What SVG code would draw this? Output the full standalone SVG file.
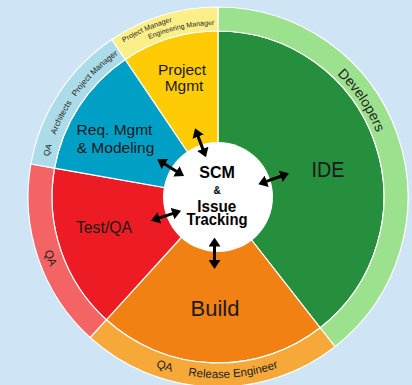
<svg xmlns="http://www.w3.org/2000/svg" width="412" height="385" viewBox="0 0 412 385">
<style>
.seg{stroke:#fff;stroke-width:1.2;stroke-linejoin:round}
.lbl{font-family:"Liberation Sans",Arial,sans-serif;fill:#1a1a1a;text-anchor:middle}
.ring{font-family:"Liberation Sans",Arial,sans-serif;fill:#231f20;text-anchor:middle}
.core{font-family:"Liberation Sans",Arial,sans-serif;font-weight:bold;fill:#000;text-anchor:middle}
.arr{stroke:#000;stroke-width:3;fill:none;marker-start:url(#head);marker-end:url(#head)}
</style>
<defs>
<marker id="head" viewBox="0 0 9 12" markerWidth="9" markerHeight="12" refX="4" refY="6" markerUnits="userSpaceOnUse" orient="auto-start-reverse">
<path d="M0,0 L9,6 L0,12 Z" fill="#000"/>
</marker>
<path id="pDev" d="M265.1,32.6 A171 171 0 0 1 388.1,214.9"/>
<path id="pRel" d="M141.5,361 A181 181 0 0 0 321.8,345.3"/>
<path id="pQAb" d="M120.8,349.7 A181 181 0 0 0 210.1,377.8"/>
<path id="pQAr" d="M36,197 A182 182 0 0 0 78.6,314"/>
<path id="pBlue" d="M44.7,181.8 A174 174 0 0 1 144.5,39.3"/>
<path id="pY1" d="M106.6,54.4 A181 181 0 0 1 192.8,17.8"/>
<path id="pY2" d="M132,48 A172 172 0 0 1 233.6,25.7"/>
</defs>
<rect width="412" height="385" fill="#cfe4f4"/>

<g id="ide">
<path class="seg" fill="#268f3d" d="M218,197 L218,31 A166 166 0 0 1 320.2,327.8 Z"/>
<text class="lbl" x="328" y="177" font-size="22" textLength="33" lengthAdjust="spacingAndGlyphs">IDE</text>
</g>
<g id="build">
<path class="seg" fill="#f08112" d="M218,197 L320.2,327.8 A166 166 0 0 1 106.3,319.8 Z"/>
<text class="lbl" x="215" y="316" font-size="22">Build</text>
</g>
<g id="test">
<path class="seg" fill="#ed1c24" d="M218,197 L106.3,319.8 A166 166 0 0 1 54.5,168.2 Z"/>
<text class="lbl" x="104" y="233" font-size="15.8">Test/QA</text>
</g>
<g id="req">
<path class="seg" fill="#00a0c6" d="M218,197 L54.5,168.2 A166 166 0 0 1 125.2,59.4 Z"/>
<text class="lbl" x="114.5" y="135" font-size="15.5">Req. Mgmt</text>
<text class="lbl" x="115.5" y="152.5" font-size="15.5">&amp; Modeling</text>
</g>
<g id="project">
<path class="seg" fill="#ffcb05" d="M218,197 L125.2,59.4 A166 166 0 0 1 218,31 Z"/>
<text class="lbl" x="182" y="75" font-size="15.5">Project</text>
<text class="lbl" x="184" y="90.5" font-size="15.5">Mgmt</text>
</g>

<g id="ring-developers">
<path class="seg" fill="#9ce28e" d="M218,7 A190 190 0 0 1 335,346.7 L320.2,327.8 A166 166 0 0 0 218,31 Z"/>
<text class="ring" font-size="14"><textPath href="#pDev" startOffset="50%">Developers</textPath></text>
</g>
<g id="ring-build">
<path class="seg" fill="#f6a839" d="M335,346.7 A190 190 0 0 1 90.1,337.5 L106.3,319.8 A166 166 0 0 0 320.2,327.8 Z"/>
<text class="ring" font-size="11.5"><textPath href="#pQAb" startOffset="50%">QA</textPath></text>
<text class="ring" font-size="11.5"><textPath href="#pRel" startOffset="50%">Release Engineer</textPath></text>
</g>
<g id="ring-test">
<path class="seg" fill="#f46465" d="M90.1,337.5 A190 190 0 0 1 30.9,164 L54.5,168.2 A166 166 0 0 0 106.3,319.8 Z"/>
<text class="ring" font-size="11.5"><textPath href="#pQAr" startOffset="50%">QA</textPath></text>
</g>
<g id="ring-req">
<path class="seg" fill="#acdce9" d="M30.9,164 A190 190 0 0 1 111.8,39.5 L125.2,59.4 A166 166 0 0 0 54.5,168.2 Z"/>
<text class="ring" font-size="8.2"><textPath href="#pBlue" startOffset="31.6">QA</textPath></text>
<text class="ring" font-size="8.2"><textPath href="#pBlue" startOffset="66.5">Architects</textPath></text>
<text class="ring" font-size="8.2"><textPath href="#pBlue" startOffset="121.5">Project Manager</textPath></text>
</g>
<g id="ring-project">
<path class="seg" fill="#fcef8a" d="M111.8,39.5 A190 190 0 0 1 218,7 L218,31 A166 166 0 0 0 125.2,59.4 Z"/>
<text class="ring" font-size="7.2"><textPath href="#pY1" startOffset="50%">Project Manager</textPath></text>
<text class="ring" font-size="7"><textPath href="#pY2" startOffset="50%">Engineering Manager</textPath></text>
</g>

<g id="core">
<circle cx="218" cy="197" r="55" fill="#fff"/>
<text class="core" x="217" y="178.3" font-size="16">SCM</text>
<text class="core" x="217" y="194" font-size="10">&amp;</text>
<text class="core" x="216.7" y="211.7" font-size="16" textLength="39" lengthAdjust="spacingAndGlyphs">Issue</text>
<text class="core" x="217" y="225" font-size="16" textLength="61" lengthAdjust="spacingAndGlyphs">Tracking</text>
</g>

<g id="connectors">
<line class="arr" x1="196.8" y1="133" x2="204.2" y2="152.6"/>
<line class="arr" x1="161.5" y1="162" x2="179.8" y2="173.4"/>
<line class="arr" x1="263" y1="182.6" x2="284.3" y2="175"/>
<line class="arr" x1="155.7" y1="219.1" x2="176.3" y2="212.3"/>
<line class="arr" x1="214.5" y1="242.5" x2="214.5" y2="264"/>
</g>
</svg>
